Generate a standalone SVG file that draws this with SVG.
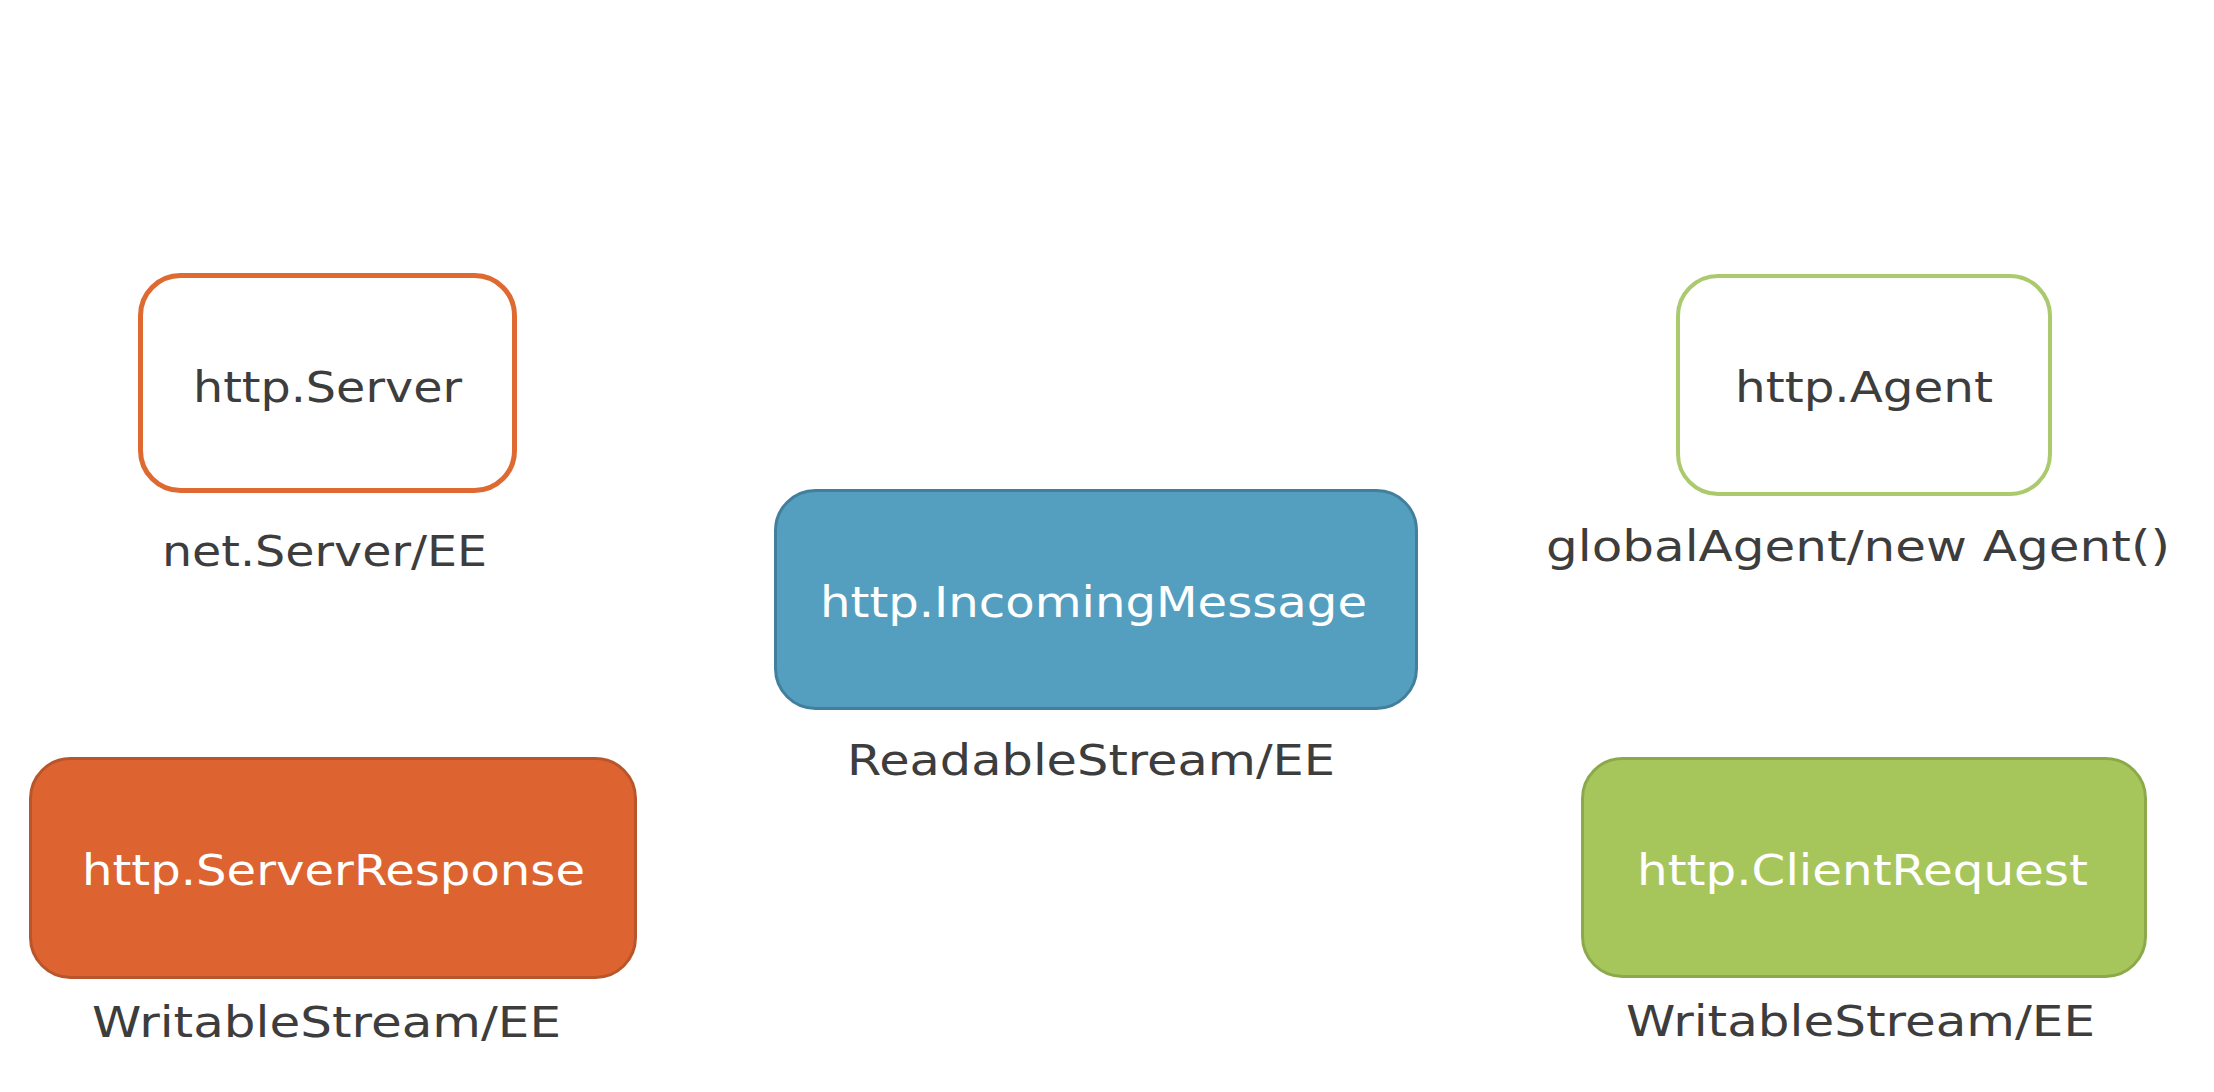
<svg xmlns="http://www.w3.org/2000/svg" width="2214" height="1092" viewBox="0 0 2214 1092">
  <style>
    .lbl { font-family: "DejaVu Sans", "Liberation Sans", sans-serif; font-size: 43px; fill: #3d3d3d; text-anchor: start; }
    .in-dark { fill: #3d3d3d; }
    .in-light { fill: #ffffff; }
  </style>
  <rect x="0" y="0" width="2214" height="1092" fill="#ffffff"/>
  <g id="connectors"></g>
  <g id="node-http-server">
    <rect x="140.5" y="275.5" width="374" height="215" rx="40" fill="#ffffff" stroke="#de6a32" stroke-width="5"/>
    <text class="lbl in-dark" x="193" y="402" textLength="269" lengthAdjust="spacingAndGlyphs">http.Server</text>
    <text class="lbl" x="162" y="566" textLength="325" lengthAdjust="spacingAndGlyphs">net.Server/EE</text>
  </g>
  <g id="node-incoming-message">
    <rect x="775.5" y="490.5" width="641" height="218" rx="40" fill="#549fc0" stroke="#417f9c" stroke-width="3"/>
    <text class="lbl in-light" x="820" y="617" textLength="547" lengthAdjust="spacingAndGlyphs">http.IncomingMessage</text>
    <text class="lbl" x="847" y="775" textLength="488" lengthAdjust="spacingAndGlyphs">ReadableStream/EE</text>
  </g>
  <g id="node-http-agent">
    <rect x="1678" y="276" width="372" height="218" rx="40" fill="#ffffff" stroke="#abca6e" stroke-width="4"/>
    <text class="lbl in-dark" x="1735" y="402" textLength="258" lengthAdjust="spacingAndGlyphs">http.Agent</text>
    <text class="lbl" x="1546" y="561" textLength="624" lengthAdjust="spacingAndGlyphs">globalAgent/new Agent()</text>
  </g>
  <g id="node-server-response">
    <rect x="30.5" y="758.5" width="605" height="219" rx="40" fill="#dd6430" stroke="#b8552a" stroke-width="3"/>
    <text class="lbl in-light" x="82" y="885" textLength="503" lengthAdjust="spacingAndGlyphs">http.ServerResponse</text>
    <text class="lbl" x="92" y="1037" textLength="469" lengthAdjust="spacingAndGlyphs">WritableStream/EE</text>
  </g>
  <g id="node-client-request">
    <rect x="1582.5" y="758.5" width="563" height="218" rx="40" fill="#a6c65c" stroke="#8ba94b" stroke-width="3"/>
    <text class="lbl in-light" x="1637" y="885" textLength="451" lengthAdjust="spacingAndGlyphs">http.ClientRequest</text>
    <text class="lbl" x="1626" y="1036" textLength="469" lengthAdjust="spacingAndGlyphs">WritableStream/EE</text>
  </g>
</svg>
